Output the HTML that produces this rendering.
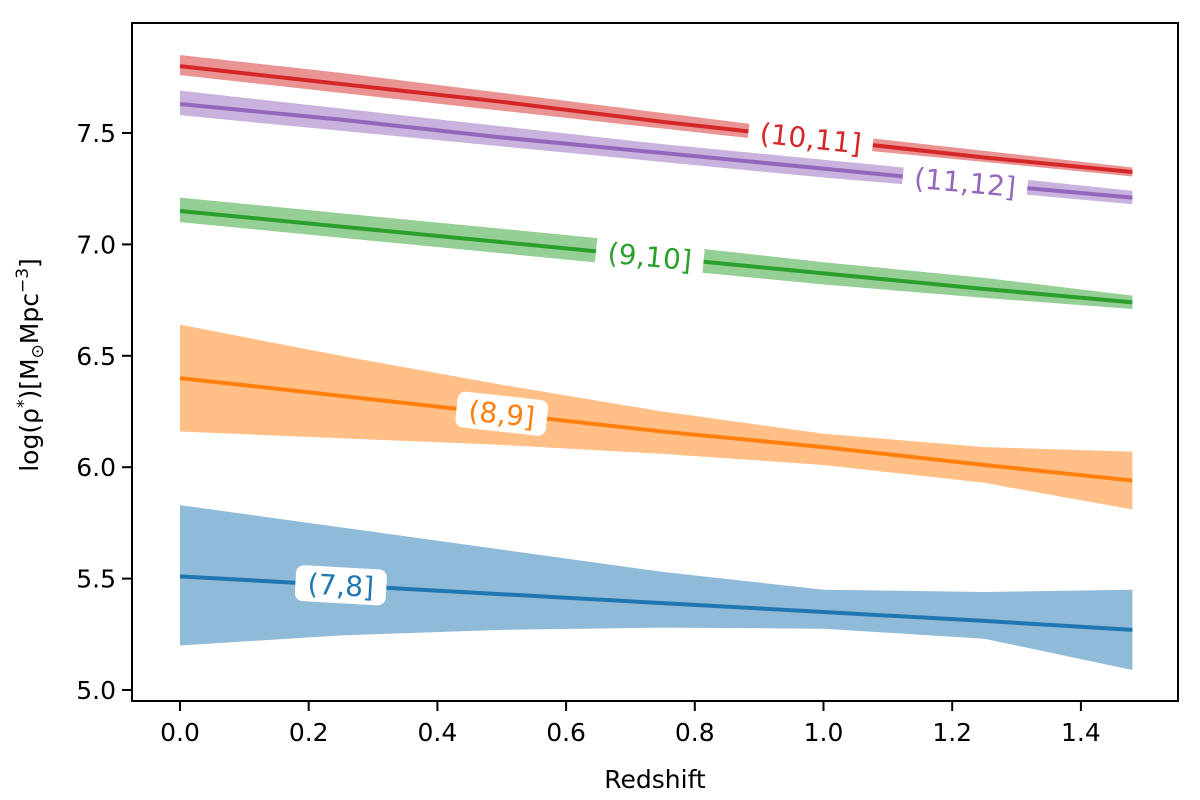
<!DOCTYPE html>
<html><head><meta charset="utf-8"><style>
html,body{margin:0;padding:0;background:#fff}
svg{display:block;font-family:"DejaVu Sans","Liberation Sans",sans-serif}
</style></head><body>
<svg id="chart" width="1200" height="800"></svg>
<script>
const zs=[0,0.25,0.5,0.75,1.0,1.25,1.48];
const series=["(7,8]","(8,9]","(9,10]","(10,11]","(11,12]"];
const colors=["#1f77b4","#ff7f0e","#2ca02c","#d62728","#9467bd"];
const mid7=[5.51,5.47,5.43,5.39,5.35,5.31,5.27];
const up7=[5.83,5.73,5.63,5.53,5.45,5.44,5.45];
const lo7=[5.20,5.245,5.27,5.28,5.275,5.23,5.09];
const mid8=[6.40,6.32,6.24,6.16,6.09,6.01,5.94];
const up8=[6.64,6.50,6.37,6.25,6.15,6.09,6.07];
const lo8=[6.16,6.13,6.10,6.06,6.01,5.93,5.81];
const mid9=[7.15,7.08,7.01,6.94,6.87,6.80,6.74];
const up9=[7.21,7.14,7.07,7.00,6.92,6.85,6.77];
const lo9=[7.10,7.03,6.96,6.89,6.82,6.76,6.71];
const mid10=[7.80,7.72,7.64,7.55,7.47,7.39,7.325];
const up10=[7.85,7.77,7.68,7.59,7.50,7.42,7.345];
const lo10=[7.76,7.68,7.60,7.52,7.44,7.37,7.305];
const mid11=[7.63,7.56,7.48,7.41,7.34,7.27,7.21];
const up11=[7.69,7.61,7.53,7.45,7.38,7.31,7.24];
const lo11=[7.58,7.51,7.44,7.37,7.30,7.24,7.18];
const labelZ=[0.25,0.5,0.73,0.98,1.22];
const xTicks=[0,0.2,0.4,0.6,0.8,1.0,1.2,1.4];
const yTicks=[5.0,5.5,6.0,6.5,7.0,7.5];

const L=132,R=1178,T=23,B=701;
const X=v=>180+v*643.5;
const Y=v=>690-(v-5.0)*222.8;
const NS="http://www.w3.org/2000/svg";
const svg=document.getElementById('chart');
function mk(t,a,p){const e=document.createElementNS(NS,t);for(const k in a)e.setAttribute(k,a[k]);(p||svg).appendChild(e);return e;}
const mids=[mid7,mid8,mid9,mid10,mid11],ups=[up7,up8,up9,up10,up11],los=[lo7,lo8,lo9,lo10,lo11];
function interp(arr,z){for(let i=0;i<zs.length-1;i++){if(z<=zs[i+1]){const t=(z-zs[i])/(zs[i+1]-zs[i]);return arr[i]+t*(arr[i+1]-arr[i]);}}return arr[arr.length-1];}
for(let s=0;s<5;s++){
  let d='M'+zs.map((z,i)=>X(z)+','+Y(ups[s][i])).join(' L');
  d+=' L'+zs.slice().reverse().map((z,i)=>X(z)+','+Y(los[s][zs.length-1-i])).join(' L')+' Z';
  const band=mk('path',{d:d,fill:colors[s],'fill-opacity':0.5,stroke:'none'});
  
  
  const line=mk('polyline',{points:zs.map((z,i)=>X(z)+','+Y(mids[s][i])).join(' '),fill:'none',stroke:colors[s],'stroke-width':4});
  
  
}
for(let s=0;s<5;s++){
  const z=labelZ[s],x=X(z),y=Y(interp(mids[s],z));
  const y2=Y(interp(mids[s],z+0.05)),ang=Math.atan2(y2-y,X(z+0.05)-x)*180/Math.PI;
  const g=mk('g',{transform:`translate(${x},${y}) rotate(${ang})`});
  
  
  const w=series[s].length*17+6;
  mk('rect',{x:-w/2,y:-18,width:w,height:36,rx:8,fill:'#fff'},g);
  const t=mk('text',{x:0,y:10,'text-anchor':'middle','font-size':28,fill:colors[s]},g);
  t.textContent=series[s];
}
mk('rect',{x:L,y:T,width:R-L,height:B-T,fill:'none',stroke:'#000','stroke-width':2});
xTicks.forEach(v=>{
  mk('line',{x1:X(v),x2:X(v),y1:B,y2:B+10,stroke:'#000','stroke-width':2});
  const t=mk('text',{x:X(v),y:B+40,'text-anchor':'middle','font-size':25,fill:'#000'});
  
  
  t.textContent=v.toFixed(1);
});
yTicks.forEach(v=>{
  mk('line',{x1:L-10,x2:L,y1:Y(v),y2:Y(v),stroke:'#000','stroke-width':2});
  const t=mk('text',{x:L-16,y:Y(v)+9,'text-anchor':'end','font-size':25,fill:'#000'});
  
  
  t.textContent=v.toFixed(1);
});
const xl=mk('text',{x:655,y:788,'text-anchor':'middle','font-size':25,fill:'#000'});


xl.textContent='Redshift';
const yl=mk('text',{x:0,y:0,transform:'translate(38,365) rotate(-90)','text-anchor':'middle','font-size':25,fill:'#000'});


yl.innerHTML='log(ρ<tspan font-size="17" dy="-9">*</tspan><tspan dy="9">)[M</tspan><tspan font-size="17" dy="5">⊙</tspan><tspan dy="-5">Mpc</tspan><tspan font-size="17" dy="-10">−3</tspan><tspan dy="10">]</tspan>';
</script>
</body></html>
